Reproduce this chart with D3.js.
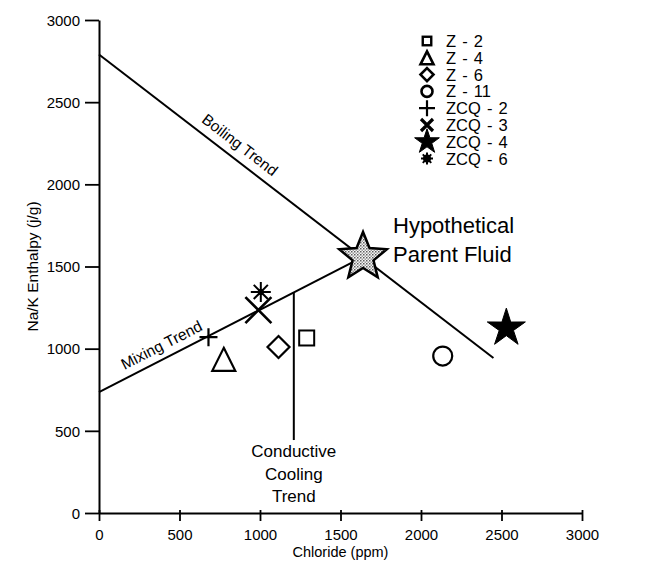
<!DOCTYPE html>
<html><head><meta charset="utf-8">
<script src="https://cdn.jsdelivr.net/npm/d3@7"></script>
<style>
body{margin:0;background:#fff}
svg{display:block}
text{font-family:"Liberation Sans",Arial,Helvetica,sans-serif;fill:#000}
</style></head><body>
<svg id="c" width="655" height="574"></svg>
<script>
// ---- data ----
const categories = ["Z - 2","Z - 4","Z - 6","Z - 11","ZCQ - 2","ZCQ - 3","ZCQ - 4","ZCQ - 6"];
const chloride  = [1290, 775, 1115, 2135, 680, 990, 2530, 1005];
const enthalpy  = [1065, 935, 1010, 955, 1070, 1235, 1125, 1345];
const symbolTypes = ["square","triangle","diamond","circle","plus","cross","star","asterisk"];
const boilingX = [0, 2450];
const boilingY = [2790, 943];
const mixingX = [0, 1640];
const mixingY = [736, 1558];
const coolingX = [1210, 1210];
const coolingY = [1342, 444];
const parentX = [1640];
const parentY = [1558];
const xTicks = [0,500,1000,1500,2000,2500,3000];
const yTicks = [0,500,1000,1500,2000,2500,3000];

const svg = d3.select("#c");
const x = d3.scaleLinear().domain([0,3000]).range([99,582]);
const y = d3.scaleLinear().domain([0,3000]).range([513,20]);

// pattern for parent star
const defs = svg.append("defs");
const pat = defs.append("pattern").attr("id","dots").attr("width",3).attr("height",3).attr("patternUnits","userSpaceOnUse");
pat.append("rect").attr("width",3).attr("height",3).attr("fill","#fff");
pat.append("rect").attr("width",1.5).attr("height",1.5).attr("fill","#555");
pat.append("rect").attr("x",1.5).attr("y",1.5).attr("width",1.5).attr("height",1.5).attr("fill","#999");

// axes
const fmt = d3.format("d");
const xAxis = svg.append("g").attr("transform",`translate(0,${y(0)})`)
  .call(d3.axisBottom(x).tickValues(xTicks).tickFormat(fmt).tickSize(8).tickSizeOuter(0).tickPadding(8));
const yAxis = svg.append("g").attr("transform",`translate(${x(0)},0)`)
  .call(d3.axisLeft(y).tickValues(yTicks).tickFormat(fmt).tickSize(14).tickSizeOuter(0).tickPadding(5));
[xAxis,yAxis].forEach(a=>{
  a.attr("font-size",null).attr("font-family",null);
  a.selectAll("path.domain").attr("stroke","#000").attr("stroke-width",2);
  a.selectAll(".tick line").attr("stroke","#000").attr("stroke-width",1.8);
  a.selectAll(".tick text").style("font-size","15px").attr("fill","#000");
});
xAxis.selectAll(".tick line").attr("y1",-3);
yAxis.selectAll(".tick text").attr("dy","0.35em");

svg.append("text").attr("x",(x(0)+x(3000))/2).attr("y",557).attr("text-anchor","middle")
  .style("font-size","14.5px").text("Chloride (ppm)");
svg.append("text").attr("transform",`translate(38,${y(1500)}) rotate(-90)`).attr("text-anchor","middle")
  .style("font-size","15.5px").text("Na/K Enthalpy (j/g)");

// trend lines
const line = d3.line().x(d=>x(d[0])).y(d=>y(d[1]));
const lines = [[boilingX,boilingY],[mixingX,mixingY],[coolingX,coolingY]];
lines.forEach(([xs,ys])=>{
  svg.append("path").attr("d",line(xs.map((v,i)=>[v,ys[i]]))).attr("fill","none").attr("stroke","#000").attr("stroke-width",2);
});

// trend labels along lines
function alongLabel(xs,ys,t,txt,off,fs){
  const px = x(xs[0]+(xs[1]-xs[0])*t), py = y(ys[0]+(ys[1]-ys[0])*t);
  const ang = Math.atan2(y(ys[1])-y(ys[0]), x(xs[1])-x(xs[0]))*180/Math.PI;
  svg.append("text").attr("transform",`translate(${px},${py}) rotate(${ang}) translate(0,${-off})`)
    .attr("text-anchor","middle").style("font-size",fs).text(txt);
}
alongLabel(boilingX,boilingY,0.335,"Boiling Trend",9,"15.5px");
alongLabel(mixingX,mixingY,0.26,"Mixing Trend",8,"15.5px");

// symbols
function starPath(ro,ri,n){
  const pts=[];
  for(let i=0;i<n*2;i++){const r=i%2?ri:ro;const a=-Math.PI/2+i*Math.PI/n;pts.push([r*Math.cos(a),r*Math.sin(a)]);}
  return "M"+pts.map(p=>p.join(",")).join("L")+"Z";
}
function drawSym(g,type,big){
  if(type==="square"){
    const s=big?15:8.5;
    g.append("rect").attr("x",-s/2).attr("y",-s/2).attr("width",s).attr("height",s).attr("fill","#fff").attr("stroke","#000").attr("stroke-width",big?2:2.4);
  } else if(type==="triangle"){
    const h=big?11.5:6.5;
    g.append("path").attr("d",`M0,${-h}L${h},${h}L${-h},${h}Z`).attr("fill","#fff").attr("stroke","#000").attr("stroke-width",big?2.2:2.6);
  } else if(type==="diamond"){
    const h=big?11:6.5;
    g.append("path").attr("d",`M0,${-h}L${h},0L0,${h}L${-h},0Z`).attr("fill","#fff").attr("stroke","#000").attr("stroke-width",big?2.2:2.6);
  } else if(type==="circle"){
    g.append("circle").attr("r",big?9.5:5.5).attr("fill","#fff").attr("stroke","#000").attr("stroke-width",big?2.2:2.6);
  } else if(type==="plus"){
    const h=big?9:8;
    g.append("path").attr("d",`M${-h},0H${h}M0,${-h}V${h}`).attr("stroke","#000").attr("stroke-width",2.2);
  } else if(type==="cross"){
    const h=big?13:6;
    g.append("path").attr("d",`M${-h},${-h}L${h},${h}M${h},${-h}L${-h},${h}`).attr("stroke","#000").attr("stroke-width",big?2.6:3.2);
  } else if(type==="star"){
    g.append("path").attr("d",starPath(big?20:13,big?7.5:5,5)).attr("fill","#000").attr("stroke","#000").attr("stroke-width",1);
  } else if(type==="asterisk"){
    const h=big?10:6;
    let d="";
    for(let i=0;i<8;i++){const a=i*Math.PI/4;d+=`M0,0L${h*Math.cos(a)},${h*Math.sin(a)}`;}
    g.append("path").attr("d",d).attr("stroke","#000").attr("stroke-width",2);
    g.append("circle").attr("r",big?3:4).attr("fill","#000");
  }
}

// data points
categories.forEach((c,i)=>{
  const g = svg.append("g").attr("transform",`translate(${x(chloride[i])},${y(enthalpy[i])})`);
  drawSym(g,symbolTypes[i],true);
});

// parent fluid star
svg.append("path").attr("transform",`translate(${x(parentX[0])},${y(parentY[0])})`)
  .attr("d",starPath(25,11,5)).attr("fill","url(#dots)").attr("stroke","#000").attr("stroke-width",2.5);
const hp = svg.append("text").style("font-size","22px");
hp.append("tspan").attr("x",393).attr("y",233).text("Hypothetical");
hp.append("tspan").attr("x",393).attr("y",262).text("Parent Fluid");

// conductive cooling label
const cc = svg.append("text").attr("text-anchor","middle").style("font-size","17px");
["Conductive","Cooling","Trend"].forEach((t,i)=>cc.append("tspan").attr("x",x(coolingX[0])).attr("y",457+i*22.5).text(t));

// legend
categories.forEach((c,i)=>{
  const yy = 41 + i*16.8;
  const g = svg.append("g").attr("transform",`translate(427,${yy})`);
  drawSym(g,symbolTypes[i],false);
  svg.append("text").attr("x",446).attr("y",yy+6).style("font-size","16.5px").style("word-spacing","1.5px").text(c);
});
</script></body></html>
